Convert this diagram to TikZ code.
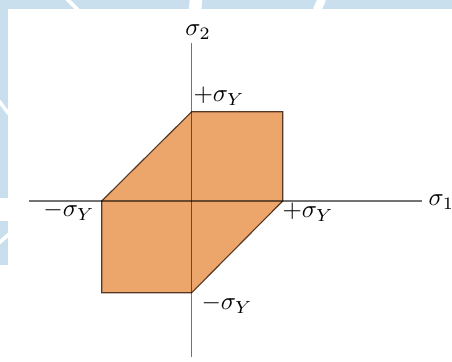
\documentclass[tikz,border=0pt]{standalone}
\usepackage{xcolor}
\usepackage{tikz}
\usetikzlibrary{positioning, calc}
\definecolor{yieldFill}{RGB}{236,165,106}
\definecolor{edgeLine}{RGB}{85,55,35}
\definecolor{markBlue}{RGB}{201,223,237}
\tikzset{
  axisline/.style={draw=black, opacity=.55, line width=.6pt},
  yieldzone/.style={fill=yieldFill, draw=edgeLine, line width=.45pt, line join=miter},
  axislabel/.style={inner sep=0pt, font=\normalsize},
  markgap/.style={draw=white, line width=#1}
}

\begin{document}
\begin{tikzpicture}[x=0.4pt, y=-0.4pt]
  \useasboundingbox (0,0) rectangle (452,361);

  % light watermark stripes
  \fill[markBlue] (0,0) rectangle (452,9);
  \fill[markBlue] (0,0) rectangle (8,265);
  \draw[markgap=1.5pt] (67,-1) -- (78,10);
  \draw[markgap=5pt] (196,-1) -- (195,10);
  \draw[markgap=3.4pt] (322,-1) -- (317,10);
  \draw[markgap=1.4pt] (-1,101) -- (9,114);
  \fill[white] (0,198) rectangle (8,221);
  \draw[markgap=1.4pt] (-1,243) -- (9,234);

  % yield region
  \coordinate (origin) at (191.7,201);
  \coordinate (west) at (101.7,201);
  \coordinate (northwest) at (191.7,111.7);
  \coordinate (northeast) at (282.7,111.7);
  \coordinate (east) at (282.7,201);
  \coordinate (south) at (191.7,292.7);
  \coordinate (southwest) at (101.7,292.7);
  \draw[yieldzone] (west) -- (northwest) -- (northeast) -- (east)
    -- (south) -- (southwest) -- cycle;

  % axes
  \coordinate (xstart) at (29,201);
  \coordinate (xend) at (422,201);
  \coordinate (ystart) at (191.7,43);
  \coordinate (yend) at (191.7,357);
  \draw[axisline] (xstart) -- (xend);
  \draw[axisline] (ystart) -- (yend);

  \node[axislabel] (sigmaTwo) at (198,32) {$\sigma_2$};
  \node[axislabel, anchor=west] (sigmaOne) at (428,202) {$\sigma_1$};
  \node[axislabel, anchor=west] (plusTop) at (193,96) {$+\sigma_Y$};
  \node[axislabel, anchor=east] (minusLeft) at (95,211) {$-\sigma_Y$};
  \node[axislabel, anchor=west] (plusRight) at (282,212) {$+\sigma_Y$};
  \node[axislabel, anchor=west] (minusBottom) at (201,304) {$-\sigma_Y$};
\end{tikzpicture}
\end{document}
